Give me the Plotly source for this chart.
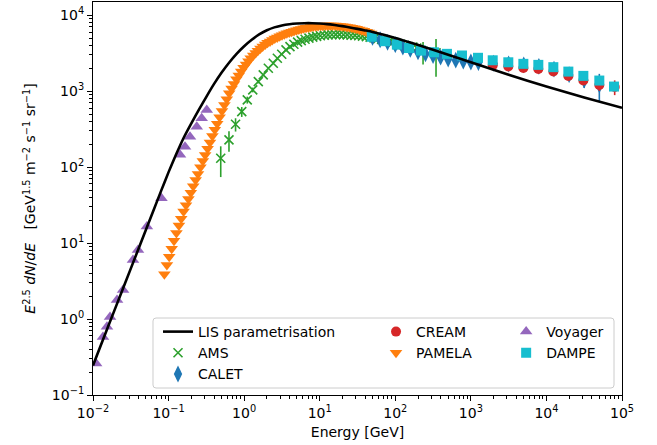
import plotly.graph_objects as go

# ---------------- data ----------------
lis_E = [0.01, 0.0158, 0.0251, 0.0398, 0.0631, 0.0794, 0.1, 0.126, 0.158, 0.2,
         0.251, 0.316, 0.398, 0.501, 0.631, 0.794, 1.0, 1.26, 1.58, 2.0,
         2.51, 3.16, 3.98, 5.01, 6.31, 7.94, 10, 12.6, 15.8, 20,
         25.1, 31.6, 39.8, 50.1, 100, 316, 1000, 3162, 10000, 31623, 100000]
lis_F = [0.245, 0.792, 2.56, 8.30, 26.9, 48.3, 85.9, 147.6, 242, 377,
         568, 843, 1236, 1746, 2371, 3105, 3908, 4753, 5585, 6339,
         6918, 7345, 7621, 7780, 7852, 7852, 7780, 7638, 7430, 7178,
         6902, 6607, 6310, 6012, 5023, 3516, 2404, 1644, 1151, 824, 604]

ams_E = [0.49, 0.63, 0.77, 0.93, 1.10, 1.30, 1.54, 1.79, 2.09, 2.43,
         2.75, 3.14, 3.58, 4.04, 4.55, 5.1, 5.7, 6.4, 7.2, 8.1,
         9.1, 10.2, 11.5, 12.9, 14.5, 16.3, 18.3, 20.6, 23.1, 26.0,
         29.2, 32.8, 36.8, 41.4, 46.5, 52.2, 58.7, 66, 74, 83,
         93, 105, 118, 132, 148, 167, 192, 233, 346]
ams_F = [131, 228, 367, 538, 767, 1040, 1337, 1637, 2005, 2333,
         2716, 3064, 3490, 3858, 4150, 4420, 4620, 4820, 5000, 5150,
         5270, 5370, 5440, 5500, 5540, 5560, 5560, 5540, 5500, 5450,
         5420, 5370, 5300, 5220, 5130, 5030, 4920, 4800, 4680, 4550,
         4420, 4280, 4140, 4000, 3860, 3720, 3700, 3350, 3200]
ams_err = [57, 68, 73, 80, 80, 75, 70, 65, 60, 60,
           60, 65, 70, 75, 80, 85, 90, 95, 100, 105,
           110, 110, 110, 110, 110, 110, 110, 110, 110, 110,
           110, 110, 110, 110, 110, 110, 110, 115, 120, 130,
           140, 150, 170, 200, 240, 300, 700, 1100, 1650]

calet_E = [50, 63, 79, 100, 126, 158, 200, 251, 316, 398, 501, 631, 794, 1000,
           1259, 1995, 3162, 5012, 7943, 12589, 19953, 31623, 50119]
calet_F = [5100, 4750, 4400, 4100, 3800, 3550, 3300, 3100, 2950, 2800, 2650, 2560, 2480, 2420,
           2380, 2330, 2280, 2220, 2120, 1950, 1650, 1400, 1210]
calet_err = [80, 75, 70, 65, 60, 55, 50, 50, 50, 50, 50, 50, 50, 55,
             60, 70, 80, 100, 110, 130, 150, 300, 480]

cream_E = [1950, 3130, 4950, 7810, 12340, 19500, 30800, 50100, 80000]
cream_F = [2200, 2120, 2023, 1963, 1820, 1588, 1385, 1208, 1137]
cream_err = [60, 70, 80, 90, 100, 120, 150, 200, 250]

pamela_E = [0.088, 0.095, 0.102, 0.110, 0.118, 0.127, 0.137, 0.147, 0.158, 0.170,
            0.183, 0.197, 0.212, 0.228, 0.245, 0.264, 0.284, 0.305, 0.328, 0.353,
            0.380, 0.409, 0.440, 0.473, 0.509, 0.548, 0.589, 0.634, 0.682, 0.734,
            0.790, 0.850, 0.914, 0.984, 1.06, 1.14, 1.22, 1.32, 1.42, 1.52,
            1.64, 1.76, 1.90, 2.04, 2.20, 2.36, 2.54, 2.74, 2.95, 3.17,
            3.41, 3.67, 3.95, 4.25, 4.57, 4.92, 5.29, 5.70, 6.13, 6.60,
            7.10, 7.64, 8.22, 8.85, 9.52, 10.3, 11.0, 11.9, 12.8, 13.8,
            14.8, 16.0, 17.2, 18.5, 19.9, 21.4, 23.0, 24.8, 26.7, 28.7,
            30.9, 33.3, 35.8, 38.5, 41.5, 44.6, 48.0]
pamela_F = [3.89, 5.14, 6.6, 8.4, 10.7, 13.6, 17.0, 20.9, 26.1, 31.5,
            38.1, 46.1, 56.0, 67.8, 81.5, 99.3, 120, 144, 175, 211,
            256, 310, 373, 452, 547, 657, 785, 942, 1084, 1245,
            1432, 1607, 1811, 2037, 2253, 2477, 2704, 2958, 3177, 3404,
            3648, 3862, 4105, 4325, 4519, 4721, 4922, 5093, 5272, 5433,
            5598, 5768, 5943, 6073, 6209, 6353, 6471, 6592, 6714, 6823,
            6902, 6998, 7079, 7145, 7194, 7261, 7278, 7328, 7345, 7345,
            7328, 7328, 7261, 7211, 7161, 7096, 7015, 6934, 6839, 6745,
            6637, 6501, 6353, 6223, 6067, 5916, 5754]
pamela_err = [0.2, 0.25, 0.3, 0.4, 0.5, 0.6, 0.7, 0.9, 1.1, 1.3,
              1.5, 1.8, 2.2, 2.7, 3.2, 3.9, 4.7, 5.6, 6.8, 8.2,
              10, 12, 14, 17, 21, 25, 30, 36, 41, 47,
              54, 61, 69, 77, 86, 94, 103, 112, 121, 129,
              139, 147, 156, 164, 172, 179, 187, 194, 200, 206,
              213, 219, 226, 231, 236, 241, 246, 250, 255, 259,
              262, 266, 269, 272, 276, 280, 285, 292, 300, 310,
              320, 332, 345, 358, 372, 387, 403, 420, 438, 456,
              474, 492, 510, 528, 545, 560, 575]

voyager_E = [0.0110, 0.01355, 0.0153, 0.0168, 0.0208, 0.0250, 0.0338, 0.0394,
             0.0516, 0.0805, 0.1416, 0.165, 0.192, 0.236, 0.274, 0.320]
voyager_F = [0.26, 0.58, 0.79, 1.06, 1.78, 2.42, 6.0, 8.1,
             16.5, 39, 145, 186, 252, 341, 440, 566]

dampe_E = [48.8, 73, 105, 152, 219, 325, 483, 763, 1243, 1946, 3130, 4950,
           7810, 12340, 19500, 30800, 50100, 78300]
dampe_F = [5200, 4550, 4100, 3700, 3420, 3250, 3100, 2950, 2750, 2550, 2400, 2290,
           2220, 2070, 1810, 1590, 1380, 1150]
dampe_err = [100, 90, 80, 75, 70, 70, 70, 70, 65, 65, 65, 65, 70, 75, 80, 90, 100, 120]

x_tickvals = [1e-2, 1e-1, 1e0, 1e1, 1e2, 1e3, 1e4, 1e5]
x_ticktext = ["10<sup>−2</sup>", "10<sup>−1</sup>", "10<sup>0</sup>", "10<sup>1</sup>",
              "10<sup>2</sup>", "10<sup>3</sup>", "10<sup>4</sup>", "10<sup>5</sup>"]
y_tickvals = [1e-1, 1e0, 1e1, 1e2, 1e3, 1e4]
y_ticktext = ["10<sup>−1</sup>", "10<sup>0</sup>", "10<sup>1</sup>",
              "10<sup>2</sup>", "10<sup>3</sup>", "10<sup>4</sup>"]

# ---------------- style ----------------
C_AMS, C_CALET, C_CREAM = "#2ca02c", "#1f77b4", "#d62728"
C_PAMELA, C_VOY, C_DAMPE = "#ff7f0e", "#9467bd", "#17becf"
FONT = "DejaVu Sans"
FS = 14

fig = go.Figure()


def err(arr, color):
    return dict(type="data", array=arr, visible=True, color=color, thickness=1.6, width=0)


fig.add_trace(go.Scatter(x=ams_E, y=ams_F, mode="markers", name="AMS",
                         marker=dict(symbol="x-thin", size=9, color=C_AMS,
                                     line=dict(color=C_AMS, width=1.6)),
                         error_y=err(ams_err, C_AMS), legend="legend", legendrank=2))
fig.add_trace(go.Scatter(x=calet_E, y=calet_F, mode="markers", name="CALET",
                         marker=dict(symbol="diamond-tall", size=12, color=C_CALET),
                         error_y=err(calet_err, C_CALET), legend="legend", legendrank=3))
fig.add_trace(go.Scatter(x=cream_E, y=cream_F, mode="markers", name="CREAM",
                         marker=dict(symbol="circle", size=10, color=C_CREAM),
                         error_y=err(cream_err, C_CREAM), legend="legend2", legendrank=1))
fig.add_trace(go.Scatter(x=pamela_E, y=pamela_F, mode="markers", name="PAMELA",
                         marker=dict(symbol="triangle-down", size=11, color=C_PAMELA),
                         error_y=err(pamela_err, C_PAMELA), legend="legend2", legendrank=2))
fig.add_trace(go.Scatter(x=voyager_E, y=voyager_F, mode="markers", name="Voyager",
                         marker=dict(symbol="triangle-up", size=11, color=C_VOY),
                         legend="legend3", legendrank=1))
fig.add_trace(go.Scatter(x=dampe_E, y=dampe_F, mode="markers", name="DAMPE",
                         marker=dict(symbol="square", size=10, color=C_DAMPE),
                         error_y=err(dampe_err, C_DAMPE), legend="legend3", legendrank=2))
fig.add_trace(go.Scatter(x=lis_E, y=lis_F, mode="lines", name="LIS parametrisation",
                         line=dict(color="black", width=2.6, shape="spline", smoothing=0.6),
                         legend="legend", legendrank=1))

# legend frame (rounded box)
x0, x1, yt, yb = 0.1134, 0.9849, 0.1959, 0.0178
rx, ry = 0.0057, 0.0076
path = (f"M {x0+rx},{yt} L {x1-rx},{yt} Q {x1},{yt} {x1},{yt-ry} "
        f"L {x1},{yb+ry} Q {x1},{yb} {x1-rx},{yb} L {x0+rx},{yb} "
        f"Q {x0},{yb} {x0},{yb+ry} L {x0},{yt-ry} Q {x0},{yt} {x0+rx},{yt} Z")
fig.add_shape(type="path", path=path, xref="paper", yref="paper",
              line=dict(color="#cccccc", width=1), fillcolor="rgba(255,255,255,0.8)",
              layer="above")

leg_common = dict(bgcolor="rgba(0,0,0,0)", borderwidth=0, yanchor="top", xanchor="left",
                  font=dict(family=FONT, size=FS, color="black"), itemwidth=30,
                  traceorder="normal", orientation="v")

axis_common = dict(type="log", showgrid=False, zeroline=False, showline=True, linecolor="black",
                   linewidth=1.1, mirror=True, ticks="outside", ticklen=5, tickwidth=1.1,
                   tickcolor="black", automargin=False,
                   tickfont=dict(family=FONT, size=FS, color="black"),
                   minor=dict(ticks="outside", ticklen=3, tickwidth=0.8, tickcolor="black",
                              dtick="D1", showgrid=False))

fig.update_layout(
    width=657, height=445,
    margin=dict(l=93, r=35, t=2, b=50, autoexpand=False),
    paper_bgcolor="white", plot_bgcolor="white",
    font=dict(family=FONT, size=FS, color="black"),
    xaxis=dict(range=[-2, 5], tickmode="array", tickvals=x_tickvals, ticktext=x_ticktext,
               title=dict(text="Energy [GeV]", standoff=7,
                          font=dict(family=FONT, size=FS, color="black")),
               **axis_common),
    yaxis=dict(range=[-1, 4.174], tickmode="array", tickvals=y_tickvals, ticktext=y_ticktext,
               title=dict(text="<i>E</i><sup>2.5</sup> <i>dN</i>/<i>dE</i>   "
                               "[GeV<sup>1.5</sup> m<sup>−2</sup> s<sup>−1</sup> sr<sup>−1</sup>]",
                          standoff=12, font=dict(family=FONT, size=FS, color="black")),
               **axis_common),
    legend=dict(x=0.1229, y=0.201, **leg_common),
    legend2=dict(x=0.535, y=0.201, **leg_common),
    legend3=dict(x=0.781, y=0.201, **leg_common),
    showlegend=True,
)

fig.write_html("out.html", config={"displayModeBar": False},
               post_script="document.body.style.margin='0px';document.body.style.overflow='hidden';")
